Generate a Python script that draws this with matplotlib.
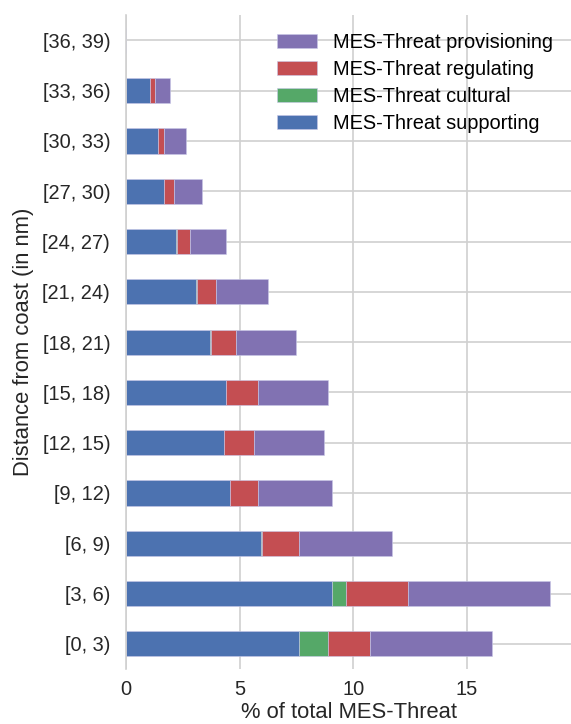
import matplotlib
matplotlib.use('Agg')
import matplotlib.pyplot as plt
import numpy as np

# distance bins (nm)
bins = ['[0, 3)', '[3, 6)', '[6, 9)', '[9, 12)', '[12, 15)', '[15, 18)',
        '[18, 21)', '[21, 24)', '[24, 27)', '[27, 30)', '[30, 33)',
        '[33, 36)', '[36, 39)']

# % of total MES-Threat per category
supporting = [7.59, 9.07, 5.92, 4.58, 4.32, 4.39, 3.71, 3.09, 2.21, 1.68, 1.42, 1.05, 0.0]
cultural = [1.30, 0.63, 0.08, 0.01, 0.01, 0.01, 0.01, 0.01, 0.01, 0.0, 0.0, 0.0, 0.0]
regulating = [1.86, 2.72, 1.59, 1.22, 1.31, 1.41, 1.13, 0.87, 0.61, 0.43, 0.26, 0.21, 0.0]
provisioning = [5.35, 6.24, 4.11, 3.26, 3.07, 3.08, 2.63, 2.28, 1.56, 1.23, 0.96, 0.67, 0.0]

plt.rcParams['font.family'] = ['Liberation Sans', 'DejaVu Sans']

fig, ax = plt.subplots(figsize=(5.71, 7.24), dpi=100)
fig.subplots_adjust(left=0.221, right=1.0, top=0.979, bottom=0.076)

y = np.arange(len(bins))
series = [('MES-Threat supporting', supporting, '#4C72B0'),
          ('MES-Threat cultural', cultural, '#55A868'),
          ('MES-Threat regulating', regulating, '#C44E52'),
          ('MES-Threat provisioning', provisioning, '#8172B2')]

left = np.zeros(len(bins))
for name, vals, col in series:
    vals = np.array(vals)
    ax.barh(y, vals, height=0.5, left=left, color=col, label=name,
            edgecolor='#c8c8e8', linewidth=0.4, zorder=2)
    left += vals

ax.set_ylim(-0.5, len(bins) - 0.5)
ax.set_xlim(0, left.max() * 1.05)
ax.set_yticks(y)
ax.set_yticklabels(bins)
ax.set_xticks([0, 5, 10, 15])

ax.grid(True, color='#d0d0d0', linewidth=1.2, zorder=0)
ax.set_axisbelow(True)
for s in ax.spines.values():
    s.set_visible(False)
ax.spines['left'].set_visible(True)
ax.spines['left'].set_color('#d0d0d0')
ax.spines['left'].set_linewidth(1.2)
ax.tick_params(length=0, labelsize=14.4, colors='#262626')
ax.tick_params(axis='y', pad=11.5)
ax.tick_params(axis='x', pad=8)

ax.set_xlabel('% of total MES-Threat', fontsize=15.8, color='#262626', labelpad=2)
ax.set_ylabel('Distance from coast (in nm)', fontsize=15.8, color='#262626', labelpad=6)

h, l = ax.get_legend_handles_labels()
ax.legend(h[::-1], l[::-1], loc='upper right', frameon=False, fontsize=14.4,
          handlelength=2.0, handletextpad=0.8, labelspacing=0.4)

fig.savefig('out.png', dpi=100)
